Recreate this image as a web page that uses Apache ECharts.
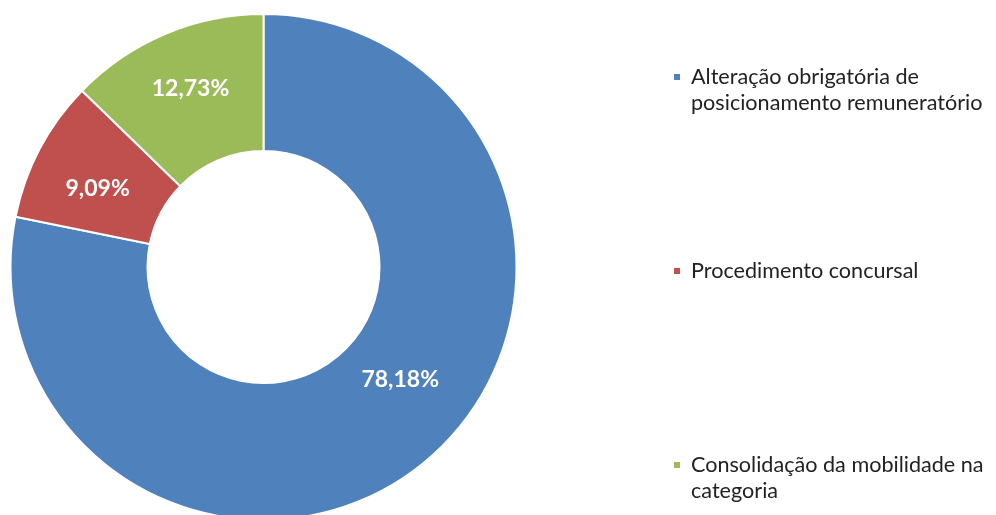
<!DOCTYPE html>
<html lang="pt">
<head>
    <meta charset="UTF-8">
    <title>Donut</title>
    <script src="https://cdn.jsdelivr.net/npm/echarts@6/dist/echarts.min.js"></script>
    <style>
        html, body { margin: 0; padding: 0; background: #ffffff; }
        #main { width: 996px; height: 515px; }
    </style>
</head>
<body>
    <div id="main"></div>
    <script>
        // data
        var categories = [
            'Alteração obrigatória de\nposicionamento remuneratório',
            'Procedimento concursal',
            'Consolidação da mobilidade na\ncategoria'
        ];
        var values = [78.18, 9.09, 12.73];
        var colors = ['#4f81bd', '#c0504d', '#9bbb59'];

        var chart = echarts.init(document.getElementById('main'));
        var font = 'Lato, "Open Sans", sans-serif';

        // nudges so the labels sit where the original puts them
        var labelShift = [[18, -33], [0, 9], [0, -6]];

        function legendFor(i, top) {
            return {
                data: [categories[i]],
                orient: 'vertical',
                left: 672,
                top: top,
                padding: 0,
                icon: 'rect',
                itemWidth: 8,
                itemHeight: 8,
                itemGap: 0,
                selectedMode: false,
                // a blank first line keeps the square level with the first text line
                formatter: function (name) {
                    return name.indexOf('\n') >= 0 ? ' \n' + name : name;
                },
                textStyle: {
                    fontFamily: font,
                    fontSize: 21.6,
                    lineHeight: 26,
                    color: '#222222',
                    padding: [0, 0, 0, 5]
                }
            };
        }

        var option = {
            animation: false,
            color: colors,
            legend: [legendFor(0, 38), legendFor(1, 258), legendFor(2, 426)],
            series: [{
                type: 'pie',
                center: [263.5, 267],
                radius: [116, 253],
                startAngle: 90,
                clockwise: true,
                avoidLabelOverlap: false,
                itemStyle: { borderColor: '#ffffff', borderWidth: 2 },
                label: {
                    show: true,
                    position: 'inside',
                    color: '#ffffff',
                    fontFamily: font,
                    fontWeight: 'bold',
                    fontSize: 23,
                    formatter: function (p) {
                        return p.value.toFixed(2).replace('.', ',') + '%';
                    }
                },
                labelLayout: function (p) {
                    var s = labelShift[p.dataIndex];
                    return { dx: s[0], dy: s[1] };
                },
                labelLine: { show: false },
                emphasis: { disabled: true },
                data: categories.map(function (c, i) {
                    return { name: c, value: values[i] };
                })
            }]
        };

        chart.setOption(option);
    </script>
</body>
</html>
